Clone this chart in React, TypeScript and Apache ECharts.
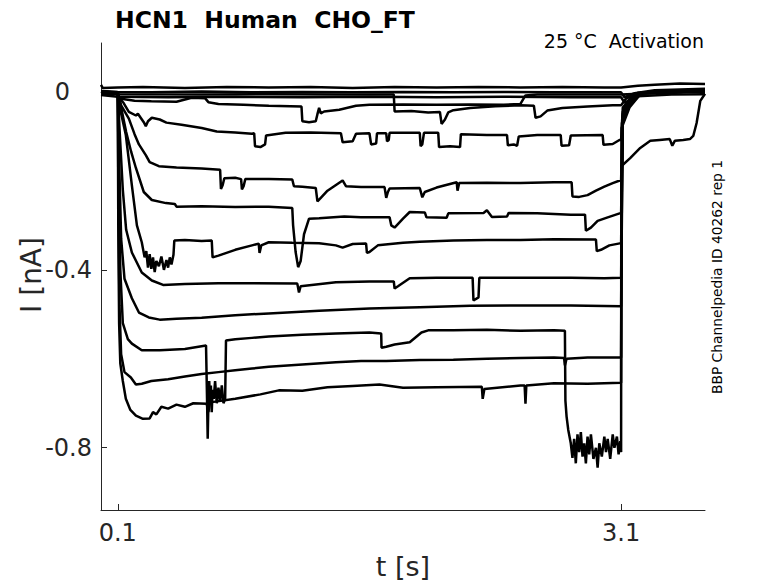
import React, { useEffect, useRef } from "react";
import * as echarts from "echarts";

// ---- data: [t (s), I (nA)] ----
const xTickValues = [0.1, 3.1];
const yTickValues = [-0.8, -0.4, 0];

const traceZ1 = [[0,0.016],[0.01,0.009],[0.1,0.010],[0.25,0.011],[0.5,0.009],[0.75,0.011],[1.0,0.010],[1.25,0.011],[1.5,0.009],[1.75,0.011],[2.0,0.010],[2.25,0.011],[2.5,0.010],[2.75,0.011],[3.0,0.010],[3.1,0.010],[3.2,0.014],[3.3,0.016],[3.45,0.019],[3.6,0.018]];
const traceZ2 = [[0,0.002],[0.1,0.0],[0.3,-0.001],[0.6,0.001],[0.9,-0.001],[1.2,0.0],[1.5,-0.001],[1.8,0.0],[2.1,-0.001],[2.4,0.0],[2.7,-0.001],[3.1,-0.001],[3.12,-0.012],[3.18,-0.003],[3.3,0.004],[3.6,0.007]];
const traceZ3 = [[0,-0.007],[0.1,-0.011],[0.4,-0.012],[0.8,-0.011],[1.2,-0.012],[1.6,-0.011],[2.0,-0.012],[2.4,-0.011],[2.8,-0.012],[3.1,-0.012],[3.12,-0.024],[3.2,-0.010],[3.4,-0.006],[3.6,-0.005]];
const traceB0 = [[0,-0.004],[0.1,-0.005],[0.6,-0.006],[1.0,-0.005],[1.4,-0.006],[1.745,-0.006],[1.75,-0.044],[1.85,-0.043],[1.95,-0.046],[2.02,-0.045],[2.03,-0.072],[2.05,-0.062],[2.07,-0.046],[2.1,-0.041],[2.2,-0.036],[2.35,-0.032],[2.5,-0.030],[2.58,-0.031],[2.59,-0.058],[2.62,-0.055],[2.66,-0.042],[2.75,-0.036],[2.9,-0.033],[3.05,-0.030],[3.1,-0.030],[3.13,-0.015],[3.2,-0.002],[3.6,0.003]];
const traceB = [[0,-0.002],[0.1,-0.003],[0.105,-0.012],[0.13,-0.016],[0.2,-0.020],[0.3,-0.021],[0.45,-0.022],[0.54,-0.013],[0.62,-0.014],[0.64,-0.023],[0.7,-0.027],[0.85,-0.029],[1.0,-0.031],[1.195,-0.033],[1.2,-0.066],[1.24,-0.068],[1.28,-0.066],[1.29,-0.050],[1.30,-0.036],[1.31,-0.048],[1.33,-0.044],[1.42,-0.040],[1.52,-0.031],[1.6,-0.029],[1.8,-0.028],[2.0,-0.029],[2.2,-0.028],[2.4,-0.029],[2.5,-0.027],[2.53,-0.008],[2.6,-0.006],[3.1,-0.006],[3.6,0.002]];
const traceC = [[0,0.001],[0.1,-0.001],[0.11,-0.014],[0.135,-0.025],[0.166,-0.045],[0.208,-0.053],[0.22,-0.049],[0.255,-0.068],[0.267,-0.077],[0.28,-0.066],[0.303,-0.058],[0.35,-0.062],[0.39,-0.069],[0.48,-0.074],[0.6,-0.081],[0.69,-0.089],[0.8,-0.091],[0.9,-0.094],[0.913,-0.093],[0.918,-0.122],[0.95,-0.124],[0.978,-0.118],[0.984,-0.098],[1.1,-0.092],[1.25,-0.091],[1.43,-0.093],[1.44,-0.113],[1.5,-0.111],[1.52,-0.094],[1.6,-0.093],[1.61,-0.118],[1.64,-0.116],[1.645,-0.093],[1.70,-0.093],[1.705,-0.111],[1.715,-0.108],[1.72,-0.092],[1.9,-0.092],[1.905,-0.122],[1.915,-0.118],[1.925,-0.092],[2.01,-0.092],[2.015,-0.124],[2.08,-0.122],[2.14,-0.124],[2.145,-0.095],[2.3,-0.097],[2.42,-0.097],[2.425,-0.120],[2.46,-0.118],[2.48,-0.121],[2.49,-0.100],[2.6,-0.097],[2.74,-0.097],[2.745,-0.121],[2.79,-0.120],[2.80,-0.098],[2.99,-0.097],[2.995,-0.119],[3.05,-0.117],[3.09,-0.108],[3.1,-0.108],[3.11,-0.035],[3.16,-0.012],[3.22,-0.003],[3.6,0.001]];
const traceD = [[0,-0.001],[0.1,-0.003],[0.12,-0.030],[0.166,-0.060],[0.2,-0.095],[0.226,-0.118],[0.267,-0.142],[0.29,-0.158],[0.345,-0.167],[0.45,-0.170],[0.6,-0.172],[0.71,-0.175],[0.715,-0.218],[0.725,-0.210],[0.735,-0.194],[0.8,-0.193],[0.835,-0.196],[0.84,-0.219],[0.85,-0.212],[0.86,-0.196],[1.0,-0.196],[1.14,-0.197],[1.15,-0.212],[1.2,-0.213],[1.28,-0.216],[1.29,-0.246],[1.31,-0.238],[1.35,-0.222],[1.44,-0.199],[1.46,-0.212],[1.55,-0.214],[1.69,-0.214],[1.70,-0.238],[1.71,-0.225],[1.72,-0.217],[1.9,-0.216],[1.915,-0.237],[1.93,-0.225],[2.0,-0.215],[2.12,-0.203],[2.125,-0.222],[2.135,-0.205],[2.3,-0.204],[2.5,-0.205],[2.7,-0.203],[2.805,-0.203],[2.81,-0.235],[2.85,-0.236],[2.9,-0.232],[2.95,-0.222],[3.0,-0.213],[3.05,-0.205],[3.1,-0.198],[3.11,-0.045],[3.15,-0.018],[3.22,-0.003],[3.6,0.002]];
const traceE = [[0,0.001],[0.1,-0.002],[0.12,-0.035],[0.15,-0.090],[0.18,-0.135],[0.208,-0.171],[0.255,-0.225],[0.303,-0.243],[0.387,-0.250],[0.44,-0.252],[0.45,-0.258],[0.6,-0.257],[0.8,-0.259],[1.0,-0.258],[1.14,-0.261],[1.145,-0.300],[1.16,-0.360],[1.175,-0.394],[1.19,-0.380],[1.21,-0.320],[1.24,-0.285],[1.3,-0.284],[1.45,-0.280],[1.55,-0.282],[1.72,-0.282],[1.73,-0.300],[1.75,-0.305],[1.8,-0.285],[1.84,-0.270],[1.93,-0.271],[1.94,-0.282],[2.06,-0.283],[2.07,-0.273],[2.28,-0.272],[2.30,-0.266],[2.33,-0.281],[2.42,-0.280],[2.43,-0.272],[2.6,-0.273],[2.8,-0.276],[2.885,-0.276],[2.89,-0.312],[2.92,-0.305],[2.96,-0.290],[3.02,-0.282],[3.1,-0.272],[3.11,-0.050],[3.15,-0.020],[3.22,-0.002],[3.6,0.002]];
const traceF = [[0,0.001],[0.1,-0.002],[0.115,-0.040],[0.148,-0.097],[0.184,-0.210],[0.214,-0.300],[0.243,-0.338],[0.26,-0.372],[0.27,-0.358],[0.28,-0.395],[0.29,-0.365],[0.30,-0.398],[0.31,-0.372],[0.32,-0.405],[0.33,-0.380],[0.345,-0.392],[0.36,-0.370],[0.375,-0.400],[0.39,-0.378],[0.40,-0.395],[0.41,-0.372],[0.42,-0.388],[0.432,-0.366],[0.437,-0.334],[0.5,-0.333],[0.6,-0.335],[0.66,-0.334],[0.665,-0.372],[0.7,-0.368],[0.8,-0.355],[0.9,-0.345],[0.94,-0.341],[0.945,-0.362],[0.955,-0.345],[1.0,-0.338],[1.14,-0.339],[1.3,-0.340],[1.4,-0.345],[1.44,-0.350],[1.5,-0.342],[1.58,-0.341],[1.585,-0.362],[1.6,-0.360],[1.65,-0.345],[1.8,-0.339],[1.9,-0.337],[2.1,-0.334],[2.3,-0.333],[2.5,-0.333],[2.7,-0.331],[2.95,-0.332],[2.955,-0.358],[2.98,-0.355],[3.03,-0.345],[3.1,-0.340],[3.11,-0.055],[3.15,-0.022],[3.22,-0.002],[3.6,0.002]];
const traceG = [[0,0.0],[0.1,-0.002],[0.11,-0.080],[0.13,-0.220],[0.15,-0.310],[0.184,-0.361],[0.243,-0.406],[0.303,-0.424],[0.37,-0.434],[0.5,-0.432],[0.7,-0.430],[0.9,-0.430],[1.17,-0.431],[1.18,-0.451],[1.19,-0.437],[1.4,-0.428],[1.6,-0.426],[1.745,-0.426],[1.75,-0.442],[1.77,-0.437],[1.84,-0.419],[2.0,-0.418],[2.215,-0.418],[2.22,-0.469],[2.25,-0.462],[2.255,-0.418],[2.4,-0.418],[2.6,-0.418],[2.8,-0.418],[3.0,-0.419],[3.1,-0.418],[3.11,-0.060],[3.15,-0.025],[3.22,-0.002],[3.6,0.002]];
const traceH = [[0,0.0],[0.1,-0.003],[0.108,-0.150],[0.12,-0.330],[0.14,-0.420],[0.184,-0.464],[0.226,-0.496],[0.285,-0.507],[0.35,-0.512],[0.45,-0.510],[0.6,-0.508],[0.8,-0.502],[1.0,-0.498],[1.3,-0.492],[1.6,-0.487],[1.9,-0.484],[2.2,-0.481],[2.5,-0.480],[2.8,-0.480],[3.1,-0.482],[3.11,-0.065],[3.15,-0.028],[3.22,-0.003],[3.6,0.002]];
const traceI = [[0,0.0],[0.1,-0.003],[0.106,-0.200],[0.115,-0.400],[0.13,-0.520],[0.16,-0.556],[0.184,-0.566],[0.243,-0.581],[0.35,-0.581],[0.5,-0.578],[0.626,-0.570],[0.632,-0.690],[0.636,-0.780],[0.64,-0.700],[0.645,-0.650],[0.65,-0.700],[0.655,-0.660],[0.66,-0.720],[0.665,-0.670],[0.672,-0.690],[0.68,-0.650],[0.69,-0.700],[0.70,-0.665],[0.71,-0.695],[0.72,-0.660],[0.73,-0.700],[0.74,-0.690],[0.745,-0.559],[0.8,-0.556],[0.9,-0.553],[1.0,-0.550],[1.2,-0.546],[1.4,-0.543],[1.6,-0.541],[1.67,-0.543],[1.672,-0.575],[1.7,-0.573],[1.75,-0.568],[1.84,-0.563],[1.91,-0.541],[1.95,-0.536],[2.1,-0.536],[2.3,-0.535],[2.5,-0.537],[2.7,-0.536],[2.765,-0.537],[2.768,-0.694],[2.775,-0.730],[2.785,-0.760],[2.8,-0.790],[2.81,-0.823],[2.82,-0.780],[2.83,-0.835],[2.84,-0.770],[2.85,-0.810],[2.86,-0.765],[2.87,-0.820],[2.88,-0.790],[2.89,-0.835],[2.9,-0.775],[2.91,-0.815],[2.92,-0.770],[2.935,-0.825],[2.95,-0.800],[2.96,-0.845],[2.97,-0.790],[2.985,-0.820],[3.0,-0.775],[3.01,-0.810],[3.02,-0.780],[3.035,-0.825],[3.05,-0.770],[3.06,-0.800],[3.075,-0.775],[3.085,-0.815],[3.095,-0.785],[3.1,-0.810],[3.101,-0.167],[3.154,-0.149],[3.214,-0.126],[3.274,-0.110],[3.33,-0.108],[3.39,-0.106],[3.405,-0.121],[3.42,-0.110],[3.47,-0.108],[3.51,-0.106],[3.53,-0.099],[3.55,-0.070],[3.572,-0.020],[3.6,-0.004]];
const traceJ = [[0,0.0],[0.1,-0.003],[0.104,-0.250],[0.11,-0.480],[0.12,-0.590],[0.14,-0.630],[0.178,-0.642],[0.208,-0.658],[0.243,-0.656],[0.3,-0.650],[0.4,-0.646],[0.5,-0.640],[0.6,-0.634],[0.7,-0.630],[0.8,-0.626],[0.9,-0.622],[1.0,-0.618],[1.2,-0.613],[1.4,-0.608],[1.55,-0.605],[1.7,-0.605],[1.9,-0.603],[2.1,-0.602],[2.3,-0.600],[2.5,-0.598],[2.7,-0.597],[2.76,-0.598],[2.765,-0.615],[2.775,-0.600],[2.9,-0.597],[3.1,-0.597],[3.105,-0.070],[3.15,-0.030],[3.22,-0.003],[3.6,0.002]];
const traceK = [[0,0.0],[0.1,-0.003],[0.103,-0.300],[0.108,-0.520],[0.115,-0.610],[0.13,-0.650],[0.148,-0.690],[0.175,-0.715],[0.208,-0.728],[0.25,-0.735],[0.29,-0.734],[0.31,-0.720],[0.33,-0.725],[0.36,-0.708],[0.4,-0.712],[0.45,-0.703],[0.5,-0.708],[0.55,-0.700],[0.63,-0.701],[0.64,-0.720],[0.65,-0.698],[0.8,-0.690],[0.95,-0.680],[1.06,-0.671],[1.2,-0.672],[1.35,-0.664],[1.5,-0.661],[1.66,-0.658],[1.8,-0.665],[2.0,-0.664],[2.27,-0.663],[2.275,-0.690],[2.285,-0.668],[2.5,-0.660],[2.525,-0.660],[2.53,-0.701],[2.535,-0.660],[2.7,-0.655],[2.9,-0.656],[3.1,-0.654],[3.103,-0.081],[3.15,-0.035],[3.22,-0.003],[3.6,0.002]];

const traces = [traceZ1, traceZ2, traceZ3, traceB0, traceB, traceC, traceD, traceE, traceF, traceG, traceH, traceI, traceJ, traceK];

const titleText = "HCN1  Human  CHO_FT";
const subtitleText = "25 °C  Activation";
const sideText = "BBP Channelpedia ID 40262 rep 1";
const xLabelText = "t [s]";
const yLabelText = "I [nA]";

const FONT = "'DejaVu Sans', sans-serif";
const AXIS = "#262626";

export default function App() {
  const ref = useRef<HTMLDivElement>(null);
  useEffect(() => {
    if (!ref.current) return;
    const chart = echarts.init(ref.current, null, { renderer: "svg" });
    chart.setOption({
      animation: false,
      backgroundColor: "#ffffff",
      grid: { left: 101, right: 73, top: 43, bottom: 73 },
      xAxis: {
        type: "value",
        min: 0,
        max: 3.6,
        axisLine: { show: true, onZero: false, lineStyle: { color: AXIS, width: 1 } },
        axisTick: { show: true, inside: true, length: 6, customValues: xTickValues, lineStyle: { color: AXIS } },
        axisLabel: {
          customValues: xTickValues,
          formatter: (v: number) => v.toFixed(1),
          fontSize: 24,
          color: AXIS,
          fontFamily: FONT,
          margin: 11,
        },
        splitLine: { show: false },
      },
      yAxis: {
        type: "value",
        min: -0.94,
        max: 0.11,
        axisLine: { show: true, onZero: false, lineStyle: { color: AXIS, width: 1 } },
        axisTick: { show: true, inside: true, length: 6, customValues: yTickValues, lineStyle: { color: AXIS } },
        axisLabel: {
          customValues: yTickValues,
          formatter: (v: number) => (Math.abs(v) < 1e-9 ? "{z|0}" : v.toFixed(1)),
          fontSize: 24,
          color: AXIS,
          fontFamily: FONT,
          margin: 9,
          rich: {
            z: { fontSize: 24, color: AXIS, fontFamily: FONT, padding: [0, 22, 0, 0] },
          },
        },
        splitLine: { show: false },
      },
      series: traces.map((d) => ({
        type: "line",
        data: d,
        showSymbol: false,
        symbol: "none",
        smooth: false,
        lineStyle: { color: "#000000", width: 2.5 },
        emphasis: { disabled: true },
        silent: true,
        clip: true,
      })),
      graphic: [
        {
          type: "text",
          x: 115,
          y: 20,
          style: { text: titleText, fontSize: 23.5, fontWeight: "bold", fontFamily: FONT, fill: "#000", verticalAlign: "middle", align: "left" },
        },
        {
          type: "text",
          x: 704,
          y: 41,
          style: { text: subtitleText, fontSize: 19, fontFamily: FONT, fill: "#000", verticalAlign: "middle", align: "right" },
        },
        {
          type: "text",
          x: 717,
          y: 277,
          rotation: Math.PI / 2,
          style: { text: sideText, fontSize: 13.8, fontFamily: FONT, fill: "#000", verticalAlign: "middle", align: "center" },
        },
        {
          type: "text",
          x: 31,
          y: 275,
          rotation: Math.PI / 2,
          style: { text: yLabelText, fontSize: 28, fontFamily: FONT, fill: AXIS, verticalAlign: "middle", align: "center" },
        },
        {
          type: "text",
          x: 403,
          y: 566,
          style: { text: xLabelText, fontSize: 27, fontFamily: FONT, fill: AXIS, verticalAlign: "middle", align: "center" },
        },
      ],
    });
    return () => chart.dispose();
  }, []);
  return <div ref={ref} style={{ position: "absolute", left: 0, top: 0, width: 778, height: 583 }} />;
}
